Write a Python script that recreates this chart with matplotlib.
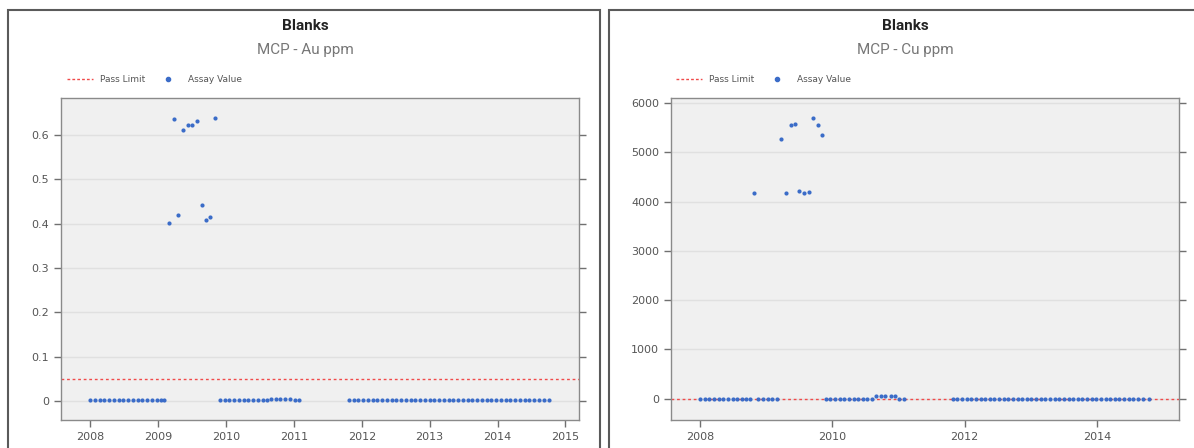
import matplotlib
matplotlib.use("Agg")
import matplotlib.pyplot as plt
from matplotlib.patches import Rectangle
from matplotlib.lines import Line2D
from matplotlib.ticker import FuncFormatter

# ---------------- data ----------------
au_dates_low = [2008.00, 2008.07, 2008.14, 2008.21, 2008.28, 2008.35, 2008.42, 2008.49,
                2008.56, 2008.63, 2008.70, 2008.77, 2008.84, 2008.91, 2008.98, 2009.05, 2009.09,
                2009.91, 2009.98, 2010.05, 2010.12, 2010.19, 2010.26, 2010.33, 2010.40,
                2010.47, 2010.54, 2010.60, 2011.01, 2011.08,
                2011.81, 2011.88, 2011.95, 2012.02, 2012.09, 2012.16, 2012.23, 2012.30,
                2012.37, 2012.44, 2012.51, 2012.58, 2012.65, 2012.72, 2012.79, 2012.86,
                2012.93, 2013.00, 2013.07, 2013.14, 2013.21, 2013.28, 2013.35, 2013.42,
                2013.49, 2013.56, 2013.63, 2013.70, 2013.77, 2013.84, 2013.91, 2013.98,
                2014.05, 2014.12, 2014.19, 2014.26, 2014.33, 2014.40, 2014.47, 2014.54,
                2014.61, 2014.68, 2014.76]
au_low_value = 0.002
au_dates_mid = [2010.66, 2010.73, 2010.80, 2010.87, 2010.94]
au_mid_value = 0.005
au_dates_high = [2009.16, 2009.23, 2009.30, 2009.37, 2009.44, 2009.50, 2009.57,
                 2009.64, 2009.71, 2009.77, 2009.84]
au_values_high = [0.402, 0.635, 0.419, 0.610, 0.621, 0.622, 0.631,
                  0.442, 0.407, 0.415, 0.638]
au_pass_limit = 0.05

cu_dates_low = [2008.00, 2008.07, 2008.14, 2008.21, 2008.28, 2008.35, 2008.42, 2008.49,
                2008.56, 2008.63, 2008.70, 2008.76, 2008.88, 2008.95, 2009.02, 2009.09, 2009.17,
                2009.90, 2009.97, 2010.04, 2010.11, 2010.18, 2010.25, 2010.32, 2010.39,
                2010.46, 2010.53, 2010.60, 2011.00, 2011.08,
                2011.82, 2011.89, 2011.96, 2012.03, 2012.10, 2012.17, 2012.24, 2012.31,
                2012.38, 2012.45, 2012.52, 2012.59, 2012.66, 2012.73, 2012.80, 2012.87,
                2012.94, 2013.01, 2013.08, 2013.15, 2013.22, 2013.29, 2013.36, 2013.43,
                2013.50, 2013.57, 2013.64, 2013.71, 2013.78, 2013.85, 2013.92, 2013.99,
                2014.06, 2014.13, 2014.20, 2014.27, 2014.34, 2014.41, 2014.48, 2014.55,
                2014.62, 2014.69, 2014.78]
cu_low_value = 5
cu_dates_mid = [2010.66, 2010.73, 2010.80, 2010.88, 2010.95]
cu_mid_value = 60
cu_dates_high = [2008.82, 2009.23, 2009.30, 2009.37, 2009.44, 2009.50, 2009.57,
                 2009.64, 2009.71, 2009.78, 2009.84]
cu_values_high = [4182, 5271, 4176, 5561, 5575, 4216, 4169, 4196, 5703, 5548, 5352]
cu_pass_limit = 0

titles = ["Blanks", "Blanks"]
subtitles = ["MCP - Au ppm", "MCP - Cu ppm"]
au_yticks = [0, 0.1, 0.2, 0.3, 0.4, 0.5, 0.6]
au_xticks = [2008, 2009, 2010, 2011, 2012, 2013, 2014, 2015]
cu_yticks = [0, 1000, 2000, 3000, 4000, 5000, 6000]
cu_xticks = [2008, 2010, 2012, 2014]

# ---------------- style ----------------
W, H = 1194, 448
DOT = "#3b6cc8"
RED = "#f04a4a"
TXT = "#555555"
fig = plt.figure(figsize=(W / 100, H / 100), dpi=100)
fig.patch.set_facecolor("white")

def px(x0, y0, w, h):
    return [x0 / W, 1 - (y0 + h) / H, w / W, h / H]

# panel borders
for x0, x1 in [(8, 600), (609, 1210)]:
    fig.add_artist(Rectangle((x0 / W, -0.05), (x1 - x0) / W, 1 - 10 / H + 0.05,
                             transform=fig.transFigure, fill=False,
                             edgecolor="#5a5a5a", linewidth=1.5))

def fmt(v, _):
    s = ("%.1f" % v) if abs(v) < 1 and v != 0 else ("%d" % round(v))
    return s

panels = [
    dict(rect=px(61, 98, 518, 322), cx=305, lx=67,
         dl=au_dates_low, lv=au_low_value, dm=au_dates_mid, mv=au_mid_value,
         dh=au_dates_high, vh=au_values_high, pl=au_pass_limit,
         xlim=(2007.57, 2015.2), ylim=(-0.043, 0.683), xt=au_xticks, yt=au_yticks),
    dict(rect=px(671, 98, 508, 322), cx=905, lx=676,
         dl=cu_dates_low, lv=cu_low_value, dm=cu_dates_mid, mv=cu_mid_value,
         dh=cu_dates_high, vh=cu_values_high, pl=cu_pass_limit,
         xlim=(2007.56, 2015.24), ylim=(-430, 6100), xt=cu_xticks, yt=cu_yticks),
]

for i, p in enumerate(panels):
    ax = fig.add_axes(p["rect"])
    ax.set_facecolor("#f0f0f0")
    ax.set_xlim(*p["xlim"])
    ax.set_ylim(*p["ylim"])
    ax.set_yticks(p["yt"])
    ax.set_xticks(p["xt"])
    ax.yaxis.set_major_formatter(FuncFormatter(fmt))
    ax.grid(axis="y", color="#e0e0e0", linewidth=1)
    ax.set_axisbelow(True)
    for s in ax.spines.values():
        s.set_color("#8a8a8a")
        s.set_linewidth(1)
    ax.tick_params(axis="both", colors="#707070", labelcolor=TXT, labelsize=8,
                   length=5, width=1, direction="out")
    ax.tick_params(axis="y", right=True, labelright=False)
    ax.axhline(p["pl"], color=RED, linestyle=(0, (2, 2)), linewidth=1, zorder=2)
    ax.scatter(p["dl"], [p["lv"]] * len(p["dl"]), s=9, color=DOT, zorder=3, linewidths=0)
    ax.scatter(p["dm"], [p["mv"]] * len(p["dm"]), s=9, color=DOT, zorder=3, linewidths=0)
    ax.scatter(p["dh"], p["vh"], s=9, color=DOT, zorder=3, linewidths=0)

    # titles
    fig.text(p["cx"] / W, 1 - 26 / H, titles[i], ha="center", va="center",
             fontsize=11, fontweight="bold", color="#222222", family="Roboto")
    fig.text(p["cx"] / W, 1 - 50 / H, subtitles[i], ha="center", va="center",
             fontsize=11, color="#777777", family="Roboto")
    # legend
    ly = 1 - 79 / H
    lx = p["lx"]
    fig.add_artist(Line2D([lx / W, (lx + 26) / W], [ly, ly], transform=fig.transFigure,
                          color=RED, linestyle=(0, (2, 1.5)), linewidth=1))
    fig.text((lx + 33) / W, ly, "Pass Limit", ha="left", va="center",
             fontsize=6.5, color=TXT)
    fig.add_artist(Line2D([(lx + 101) / W], [ly], transform=fig.transFigure,
                          marker="o", markersize=3, color=DOT, linestyle="none"))
    fig.text((lx + 121) / W, ly, "Assay Value", ha="left", va="center",
             fontsize=6.5, color=TXT)

fig.savefig("out.png", dpi=100)
